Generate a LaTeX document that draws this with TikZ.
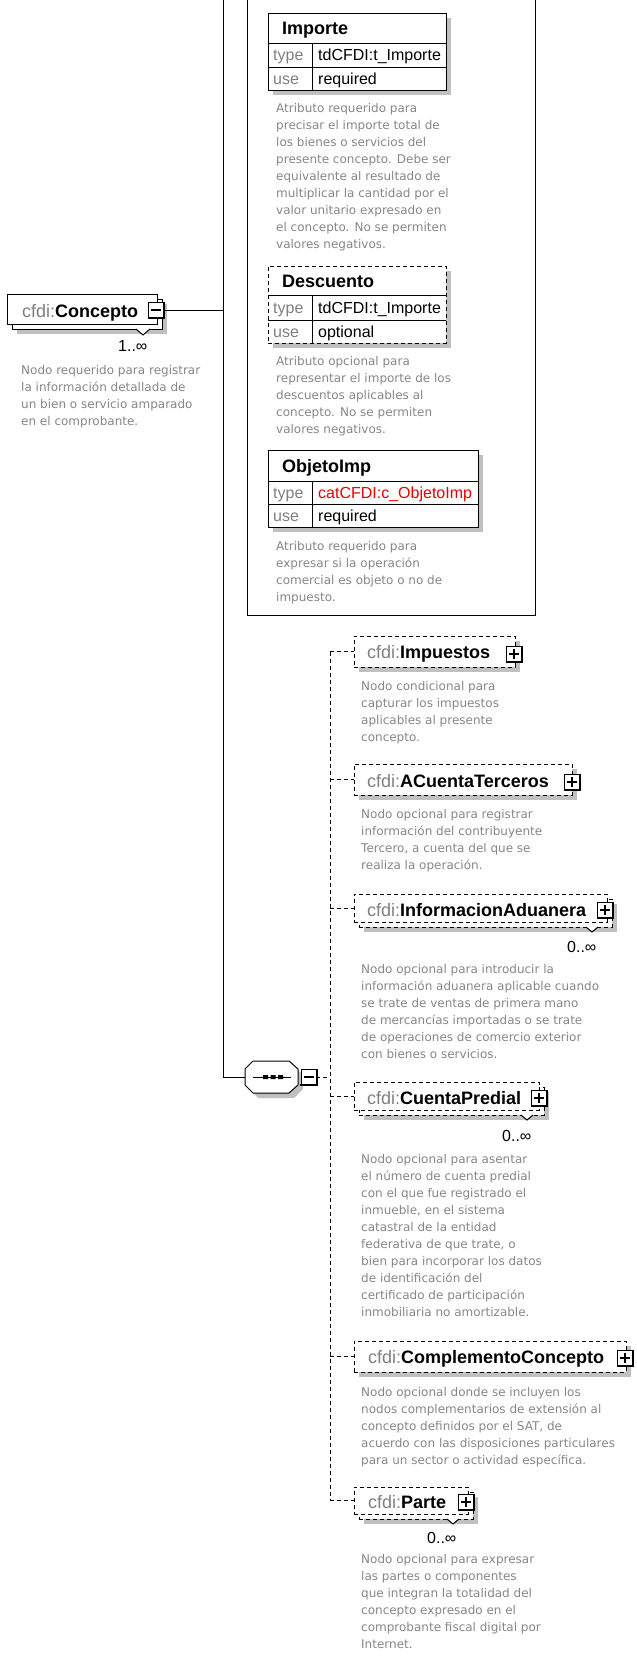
\documentclass[tikz,border=0pt]{standalone}
\usepackage{fontspec}
\setmainfont{Liberation Sans}
\newfontfamily\descfamily{DejaVu Sans}
\definecolor{descgray}{RGB}{135,135,135}
\definecolor{pfxgray}{RGB}{128,128,128}
\definecolor{shadowgray}{RGB}{192,192,192}
\definecolor{typered}{RGB}{230,0,0}
\newcommand\descfont{\descfamily\fontsize{12}{17}\selectfont}
\newcommand\ttlfont{\fontsize{18}{20}\selectfont}
\newcommand\rowfont{\fontsize{16}{18}\selectfont}
\newcommand\xpbox[4]{%
  \node[pmst] (#1) at (#2,#3) {};
  \draw[line width=2.2pt] ([xshift=0.6pt,yshift=1pt]#1.north east) -- ([xshift=0.6pt,yshift=-0.6pt]#1.south east) -- ([xshift=-1pt,yshift=-0.6pt]#1.south west);
  \draw[line width=1.4pt] ([xshift=-5pt]#1.center) -- ([xshift=5pt]#1.center);
  \ifnum#4=1 \draw[line width=1.4pt] ([yshift=-5pt]#1.center) -- ([yshift=5pt]#1.center);\fi
}
\begin{document}
\begin{tikzpicture}[x=1pt,y=-1pt,
  bx/.style={draw=black, line width=1pt, fill=white, anchor=north west, inner sep=0pt, outer sep=0pt},
  optbx/.style={bx, dash pattern=on 4pt off 3pt},
  shd/.style={fill=shadowgray, draw=none, anchor=north west, inner sep=0pt, outer sep=0pt},
  pmst/.style={draw=black, fill=white, line width=1pt, minimum size=15pt, inner sep=0pt, outer sep=0pt},
  ttl/.style={anchor=base west, inner sep=0pt, font=\ttlfont},
  rowk/.style={anchor=base west, inner sep=0pt, font=\rowfont, text=pfxgray},
  rowv/.style={anchor=base west, inner sep=0pt, font=\rowfont},
  mult/.style={anchor=base west, inner sep=0pt, font=\rowfont},
  desc/.style={anchor=north west, inner sep=0pt, align=left, font=\descfont, text=descgray},
  conn/.style={draw=black, line width=1pt},
  optconn/.style={draw=black, line width=1pt, dash pattern=on 4pt off 3pt},
  inner/.style={draw=black, line width=1pt},
  wedge/.style={draw=black, line width=1pt, fill=white}
]
\useasboundingbox (0,0) rectangle (637,1657);
\fill[white] (0,0) rectangle (637,1657);

% ---------- Concepto ----------
\node[shd, minimum width=150pt, minimum height=30pt] (concS) at (17,304) {};
\node[bx, minimum width=150pt, minimum height=30pt] (concB) at (12,299) {};
\node[bx, minimum width=150pt, minimum height=30pt] (conc) at (7,294) {};
\draw[wedge] (136,329) -- (143,335) -- (150,329);
\node[ttl] (concT) at (22,317) {{\color{pfxgray}cfdi:}\textbf{Concepto}};
\xpbox{concX}{156}{310}{0}
\node[mult] (concM) at (118,351) {1..∞};
\node[desc] (concD) at (21,362.4) {\strut Nodo requerido para registrar\\la información detallada de\\un bien o servicio amparado\\en el comprobante.};

% ---------- attribute group ----------
\node[draw=black, line width=1pt, anchor=north west, minimum width=288pt, minimum height=620pt, inner sep=0pt, outer sep=0pt] (attrs) at (247,-5) {};

% Importe
\node[shd, minimum width=178pt, minimum height=77pt] (impoS) at (273,18) {};
\node[bx, minimum width=178pt, minimum height=77pt] (impo) at (268,13) {};
\draw[inner] (268,43) -- (446,43) (268,67) -- (446,67) (312,43) -- (312,90);
\node[ttl] (impoT) at (282,34.5) {\textbf{Importe}};
\node[rowk] (impoK1) at (273,60.7) {type};
\node[rowv] (impoV1) at (318,60.7) {tdCFDI:t\_Importe};
\node[rowk] (impoK2) at (273,84.2) {use};
\node[rowv] (impoV2) at (318,84.2) {required};
\node[desc] (impoD) at (276,100.4) {\strut Atributo requerido para\\precisar el importe total de\\los bienes o servicios del\\presente concepto. Debe ser\\equivalente al resultado de\\multiplicar la cantidad por el\\valor unitario expresado en\\el concepto. No se permiten\\valores negativos.};

% Descuento
\node[shd, minimum width=178pt, minimum height=77pt] (descS) at (273,271) {};
\node[optbx, minimum width=178pt, minimum height=77pt] (desc) at (268,266) {};
\draw[inner] (268,295) -- (446,295) (268,320) -- (446,320) (312,295) -- (312,343);
\node[ttl] (descT) at (282,287) {\textbf{Descuento}};
\node[rowk] (descK1) at (273,313.2) {type};
\node[rowv] (descV1) at (318,313.2) {tdCFDI:t\_Importe};
\node[rowk] (descK2) at (273,337.2) {use};
\node[rowv] (descV2) at (318,337.2) {optional};
\node[desc] (descD) at (276,353.4) {\strut Atributo opcional para\\representar el importe de los\\descuentos aplicables al\\concepto. No se permiten\\valores negativos.};

% ObjetoImp
\node[shd, minimum width=210pt, minimum height=77pt] (objS) at (273,455) {};
\node[bx, minimum width=210pt, minimum height=77pt] (obj) at (268,450) {};
\draw[inner] (268,481) -- (478,481) (268,504) -- (478,504) (312,481) -- (312,527);
\node[ttl] (objT) at (282,472.5) {\textbf{ObjetoImp}};
\node[rowk] (objK1) at (273,498.2) {type};
\node[rowv, text=typered] (objV1) at (318,498.2) {catCFDI:c\_ObjetoImp};
\node[rowk] (objK2) at (273,521.2) {use};
\node[rowv] (objV2) at (318,521.2) {required};
\node[desc] (objD) at (276,538.4) {\strut Atributo requerido para\\expresar si la operación\\comercial es objeto o no de\\impuesto.};

% ---------- main solid connectors ----------
\coordinate (jtop) at (223,-5);
\coordinate (jc) at (223,310);
\coordinate (js) at (223,1077);
\coordinate (seqW) at (245,1077);
\draw[conn] (concX.east) -- (jc);
\draw[conn] (jtop) -- (js) -- (seqW);

% ---------- sequence compositor ----------
\fill[shadowgray] (258,1066) -- (294,1066) -- (303,1075) -- (303,1089) -- (294,1098) -- (258,1098) -- (250,1089) -- (250,1075) -- cycle;
\draw[conn, fill=white] (253,1061) -- (289,1061) -- (298,1069) -- (298,1085) -- (289,1093) -- (253,1093) -- (245,1085) -- (245,1069) -- cycle;
\draw[inner] (253,1077) -- (291,1077);
\fill[black] (263,1075) rectangle (268,1079) (270.5,1075) rectangle (275.5,1079) (278,1075) rectangle (283,1079);
\xpbox{seqX}{308.5}{1077}{0}
\coordinate (sj) at (330,1077);
\draw[optconn] (seqX.east) -- (sj);

% ---------- Impuestos ----------
\node[shd, minimum width=161pt, minimum height=31pt] (impS) at (359,641) {};
\node[optbx, minimum width=161pt, minimum height=31pt] (imp) at (354,636) {};
\node[ttl] (impT) at (367,658.5) {{\color{pfxgray}cfdi:}\textbf{Impuestos}};
\xpbox{impX}{514}{654}{1}
\node[desc] (impD) at (361,678.4) {\strut Nodo condicional para\\capturar los impuestos\\aplicables al presente\\concepto.};

% ---------- ACuentaTerceros ----------
\node[shd, minimum width=218pt, minimum height=31pt] (actS) at (359,769) {};
\node[optbx, minimum width=218pt, minimum height=31pt] (act) at (354,764) {};
\node[ttl] (actT) at (367,787.5) {{\color{pfxgray}cfdi:}\textbf{ACuentaTerceros}};
\xpbox{actX}{572}{782}{1}
\node[desc] (actD) at (361,806.4) {\strut Nodo opcional para registrar\\información del contribuyente\\Tercero, a cuenta del que se\\realiza la operación.};

% ---------- InformacionAduanera ----------
\node[shd, minimum width=253pt, minimum height=28pt] (iaS) at (364,904) {};
\node[optbx, minimum width=253pt, minimum height=28pt] (iaB) at (359,899) {};
\node[optbx, minimum width=253pt, minimum height=28pt] (ia) at (354,894) {};
\draw[wedge] (586,927) -- (592,932) -- (598,927);
\node[ttl] (iaT) at (367,916.5) {{\color{pfxgray}cfdi:}\textbf{InformacionAduanera}};
\xpbox{iaX}{605}{910}{1}
\node[mult] (iaM) at (567,952) {0..∞};
\node[desc] (iaD) at (361,961.4) {\strut Nodo opcional para introducir la\\información aduanera aplicable cuando\\se trate de ventas de primera mano\\de mercancías importadas o se trate\\de operaciones de comercio exterior\\con bienes o servicios.};

% ---------- CuentaPredial ----------
\node[shd, minimum width=185pt, minimum height=28pt] (cpS) at (364,1092) {};
\node[optbx, minimum width=185pt, minimum height=28pt] (cpB) at (359,1087) {};
\node[optbx, minimum width=185pt, minimum height=28pt] (cp) at (354,1082) {};
\draw[wedge] (521,1115) -- (527,1120) -- (533,1115);
\node[ttl] (cpT) at (367,1104.5) {{\color{pfxgray}cfdi:}\textbf{CuentaPredial}};
\xpbox{cpX}{539}{1098}{1}
\node[mult] (cpM) at (502,1141) {0..∞};
\node[desc] (cpD) at (361,1151.4) {\strut Nodo opcional para asentar\\el número de cuenta predial\\con el que fue registrado el\\inmueble, en el sistema\\catastral de la entidad\\federativa de que trate, o\\bien para incorporar los datos\\de identificación del\\certificado de participación\\inmobiliaria no amortizable.};

% ---------- ComplementoConcepto ----------
\node[shd, minimum width=272pt, minimum height=31pt] (ccS) at (359,1346) {};
\node[optbx, minimum width=272pt, minimum height=31pt] (cc) at (354,1341) {};
\node[ttl] (ccT) at (368,1363.5) {{\color{pfxgray}cfdi:}\textbf{ComplementoConcepto}};
\xpbox{ccX}{625}{1358}{1}
\node[desc] (ccD) at (361,1384.4) {\strut Nodo opcional donde se incluyen los\\nodos complementarios de extensión al\\concepto definidos por el SAT, de\\acuerdo con las disposiciones particulares\\para un sector o actividad específica.};

% ---------- Parte ----------
\node[shd, minimum width=114pt, minimum height=27pt] (ptS) at (364,1497) {};
\node[optbx, minimum width=114pt, minimum height=27pt] (ptB) at (359,1492) {};
\node[optbx, minimum width=114pt, minimum height=27pt] (pt) at (354,1487) {};
\draw[wedge] (447,1519) -- (453,1524) -- (459,1519);
\node[ttl] (ptT) at (368,1508.5) {{\color{pfxgray}cfdi:}\textbf{Parte}};
\xpbox{ptX}{466}{1502}{1}
\node[mult] (ptM) at (427,1543) {0..∞};
\node[desc] (ptD) at (361,1551.4) {\strut Nodo opcional para expresar\\las partes o componentes\\que integran la totalidad del\\concepto expresado en el\\comprobante fiscal digital por\\Internet.};

% ---------- dashed connectors ----------
\draw[optconn] (imp.west -| sj) -- (pt.west -| sj);
\draw[optconn] (imp.west -| sj) -- (imp.west);
\draw[optconn] (act.west -| sj) -- (act.west);
\draw[optconn] (ia.west -| sj) -- (ia.west);
\draw[optconn] (cp.west -| sj) -- (cp.west);
\draw[optconn] (cc.west -| sj) -- (cc.west);
\draw[optconn] (pt.west -| sj) -- (pt.west);
\end{tikzpicture}
\end{document}
